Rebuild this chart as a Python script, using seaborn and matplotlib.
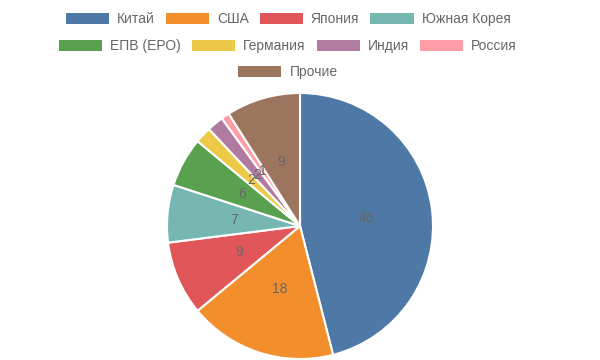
import matplotlib
matplotlib.use("Agg")
import matplotlib.pyplot as plt
import seaborn as sns
from matplotlib.patches import Patch

countries = ["Китай", "США", "Япония", "Южная Корея", "ЕПВ (ЕРО)",
             "Германия", "Индия", "Россия", "Прочие"]
shares = [46, 18, 9, 7, 6, 2, 2, 1, 9]
colors = ["#4e79a7", "#f28e2b", "#e15759", "#76b7b2", "#59a14f",
          "#edc948", "#b07aa1", "#ff9da7", "#9c755f"]

sns.set_theme(style="white")
plt.rcParams['font.family'] = ['Liberation Sans', 'DejaVu Sans']

palette = sns.color_palette(colors)

fig = plt.figure(figsize=(6, 3.6), dpi=100)
ax = fig.add_axes([167 / 600, 1 / 360, 266 / 600, 266 / 360])

ax.pie(shares, colors=palette, startangle=90, counterclock=False,
       autopct=lambda p: f"{p:.0f}", pctdistance=0.5,
       wedgeprops=dict(edgecolor="white", linewidth=1.5),
       textprops=dict(color="#666666", fontsize=10))
ax.set_xlim(-1, 1)
ax.set_ylim(-1, 1)
ax.set_aspect("equal")
ax.axis("off")

handles = [Patch(facecolor=c, edgecolor="none") for c in palette]
rows = [(0, 4, 0.947), (4, 8, 0.872), (8, 9, 0.80)]
for a, b, y in rows:
    leg = fig.legend(handles[a:b], countries[a:b], loc="center",
                     bbox_to_anchor=(0.48, y), ncol=b - a, frameon=False,
                     fontsize=10, handlelength=3.1, handleheight=0.85,
                     handletextpad=0.58, columnspacing=0.8,
                     borderpad=0, borderaxespad=0)
    for t in leg.get_texts():
        t.set_color("#666666")

fig.savefig("out.png", dpi=100)
